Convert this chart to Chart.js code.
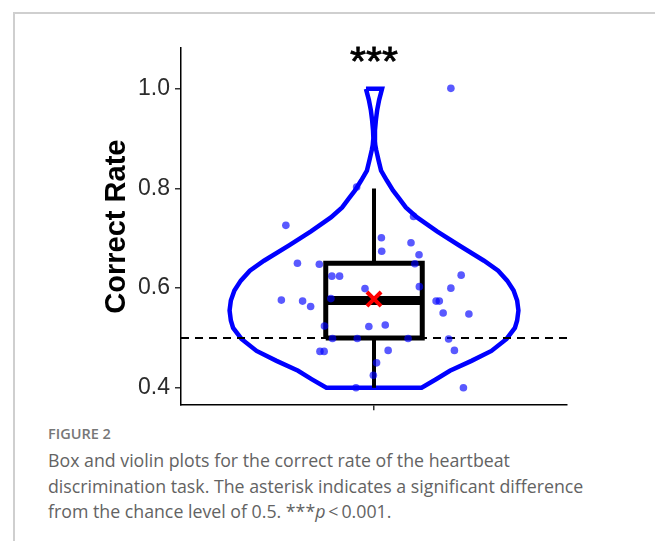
<!DOCTYPE html>
<html>
<head>
<meta charset="utf-8">
<script src="https://cdn.jsdelivr.net/npm/chart.js@4.4.1/dist/chart.umd.min.js"></script>
<style>
  html, body { margin: 0; padding: 0; background: #fff; }
  body { width: 655px; height: 541px; position: relative; overflow: hidden; }
  #frame { position: absolute; left: 13px; top: 12px; right: 0; bottom: 0;
           border-top: 2px solid #cfcfcf; border-left: 2px solid #cfcfcf; }
  #box { position: absolute; left: 0; top: 0; width: 655px; height: 424px; }
  #caption { position: absolute; left: 48px; top: 424px; width: 600px;
             font-family: "Open Sans", sans-serif; color: #636363; }
  #caption .fig { font-size: 14.5px; font-weight: 600; color: #777; line-height: 20px; }
  #caption .txt { font-size: 17.75px; line-height: 25.5px; margin-top: 4px; }
</style>
</head>
<body>
<div id="frame"></div>
<div id="box"><canvas id="grafico"></canvas></div>
<div id="caption">
  <div class="fig">FIGURE 2</div>
  <div class="txt">Box and violin plots for the correct rate of the heartbeat<br>discrimination task. The asterisk indicates a significant difference<br>from the chance level of 0.5. ***<i>p</i>&thinsp;&lt;&thinsp;0.001.</div>
</div>
<script>
// --- dados ---
const yTicks = [0.4, 0.6, 0.8, 1.0];
const chanceLevel = 0.5;
const significance = "***";
const significanceY = 1.068;

// contorno do violino: valor y e meia-largura (em unidades do eixo x)
const violinY    = [1.000, 0.978, 0.958, 0.938, 0.917, 0.901, 0.887, 0.877, 0.857, 0.836, 0.816, 0.796, 0.780, 0.762, 0.742, 0.714, 0.686, 0.655, 0.635, 0.615, 0.595, 0.575, 0.555, 0.535, 0.520, 0.498, 0.474, 0.454, 0.434, 0.417, 0.400];
const violinHalf = [0.025, 0.016, 0.010, 0.006, 0.003, 0.002, 0.004, 0.007, 0.014, 0.022, 0.040, 0.059, 0.078, 0.099, 0.134, 0.196, 0.264, 0.342, 0.386, 0.414, 0.434, 0.445, 0.449, 0.445, 0.438, 0.412, 0.365, 0.303, 0.236, 0.193, 0.148];

// boxplot
const boxLower = 0.4;
const boxQ1 = 0.5;
const boxMedian = 0.575;
const boxQ3 = 0.65;
const boxUpper = 0.8;
const meanValue = 0.578;
const boxHalfWidth = 0.15;

// pontos individuais (com jitter)
const pointX = [0.946, 0.726, 1.023, 1.024, 0.762, 0.830, 0.869, 0.893, 0.972, 0.712, 0.778, 0.803, 0.866, 0.846, 0.984, 1.035, 0.871, 0.948, 0.832, 0.845, 1.044, 1.008, 0.998, 0.944, 1.239, 1.123, 1.115, 1.140, 1.127, 1.271, 1.239, 1.141, 1.193, 1.203, 1.215, 1.295, 1.106, 1.232, 1.250, 1.278];
const pointY = [0.803, 0.726, 0.701, 0.674, 0.650, 0.648, 0.624, 0.624, 0.599, 0.576, 0.574, 0.563, 0.579, 0.524, 0.523, 0.526, 0.499, 0.499, 0.473, 0.473, 0.475, 0.450, 0.425, 0.400, 1.001, 0.744, 0.691, 0.667, 0.649, 0.626, 0.600, 0.603, 0.574, 0.574, 0.550, 0.548, 0.499, 0.498, 0.475, 0.400];

const centro = 1;

// contorno fechado: lado esquerdo de cima para baixo, depois lado direito de baixo para cima
const violinPath = [];
violinY.forEach((y, i) => violinPath.push({ x: centro - violinHalf[i], y }));
for (let i = violinY.length - 1; i >= 0; i--) violinPath.push({ x: centro + violinHalf[i], y: violinY[i] });
violinPath.push(violinPath[0]);

const boxPath = [
  { x: centro - boxHalfWidth, y: boxQ1 }, { x: centro + boxHalfWidth, y: boxQ1 },
  { x: centro + boxHalfWidth, y: boxQ3 }, { x: centro - boxHalfWidth, y: boxQ3 },
  { x: centro - boxHalfWidth, y: boxQ1 },
];

// asteriscos acima do violino
const asteriscos = {
  id: "asteriscos",
  afterDatasetsDraw(chart) {
    const { ctx, scales } = chart;
    ctx.save();
    ctx.font = "41px 'Liberation Sans', Arial, sans-serif";
    ctx.fillStyle = "#000";
    ctx.strokeStyle = "#000";
    ctx.lineWidth = 0.8;
    ctx.textAlign = "center";
    ctx.textBaseline = "alphabetic";
    const m = ctx.measureText(significance);
    const cy = scales.y.getPixelForValue(significanceY);
    const base = cy + (m.actualBoundingBoxAscent - m.actualBoundingBoxDescent) / 2;
    const cx = scales.x.getPixelForValue(centro);
    ctx.fillText(significance, cx, base);
    ctx.strokeText(significance, cx, base);
    ctx.restore();
  },
};

const linha = (data, extra) => Object.assign({
  data, showLine: true, pointRadius: 0, borderColor: "#000", fill: false, tension: 0,
}, extra);

new Chart(document.getElementById("grafico"), {
  type: "scatter",
  data: {
    datasets: [
      { label: "media", data: [{ x: centro, y: meanValue }], pointStyle: "crossRot",
        pointRadius: 10, borderColor: "#ff0000", borderWidth: 4, order: 0 },
      { label: "pontos", data: pointX.map((x, i) => ({ x, y: pointY[i] })),
        pointRadius: 3.8, backgroundColor: "rgba(0,0,255,0.65)", borderWidth: 0, order: 1 },
      linha([{ x: centro - boxHalfWidth, y: boxMedian }, { x: centro + boxHalfWidth, y: boxMedian }], { borderWidth: 9, order: 2 }),
      linha(boxPath, { borderWidth: 5, order: 2 }),
      linha([{ x: centro, y: boxQ3 }, { x: centro, y: boxUpper }], { borderWidth: 4, order: 2 }),
      linha([{ x: centro, y: boxQ1 }, { x: centro, y: boxLower }], { borderWidth: 4, order: 2 }),
      linha([{ x: 0.4, y: chanceLevel }, { x: 1.6, y: chanceLevel }], { borderWidth: 2, borderDash: [8, 6], order: 3 }),
      linha(violinPath, { borderColor: "#0000ff", borderWidth: 4.5, order: 4 }),
    ],
  },
  options: {
    animation: false,
    responsive: true,
    maintainAspectRatio: false,
    layout: { padding: { top: 48, right: 88, bottom: 0, left: 0 } },
    scales: {
      x: {
        type: "linear", min: 0.4, max: 1.6,
        afterBuildTicks: (s) => { s.ticks = [{ value: centro }]; },
        afterFit: (s) => { s.height = 16; },
        ticks: { callback: () => "" },
        grid: { drawOnChartArea: false, tickLength: 5, color: "#333", lineWidth: 1.5 },
        border: { color: "#000", width: 1.5 },
      },
      y: {
        type: "linear", min: 0.365, max: 1.082,
        afterBuildTicks: (s) => { s.ticks = yTicks.map(v => ({ value: v })); },
        afterFit: (s) => { s.width = 181; },
        ticks: { padding: 5, color: "#2b2b2b", font: { family: "'Liberation Sans', Arial", size: 23 },
                 callback: (v) => Number(v).toFixed(1) },
        grid: { drawOnChartArea: false, tickLength: 6, color: "#333", lineWidth: 1.5 },
        border: { color: "#000", width: 1.5 },
        title: { display: true, text: "Correct Rate", color: "#000",
                 font: { family: "'Liberation Sans', Arial", size: 29, weight: "bold" },
                 padding: { top: 100, bottom: 0 } },
      },
    },
    plugins: { legend: { display: false }, tooltip: { enabled: false } },
  },
  plugins: [asteriscos],
});
</script>
</body>
</html>
